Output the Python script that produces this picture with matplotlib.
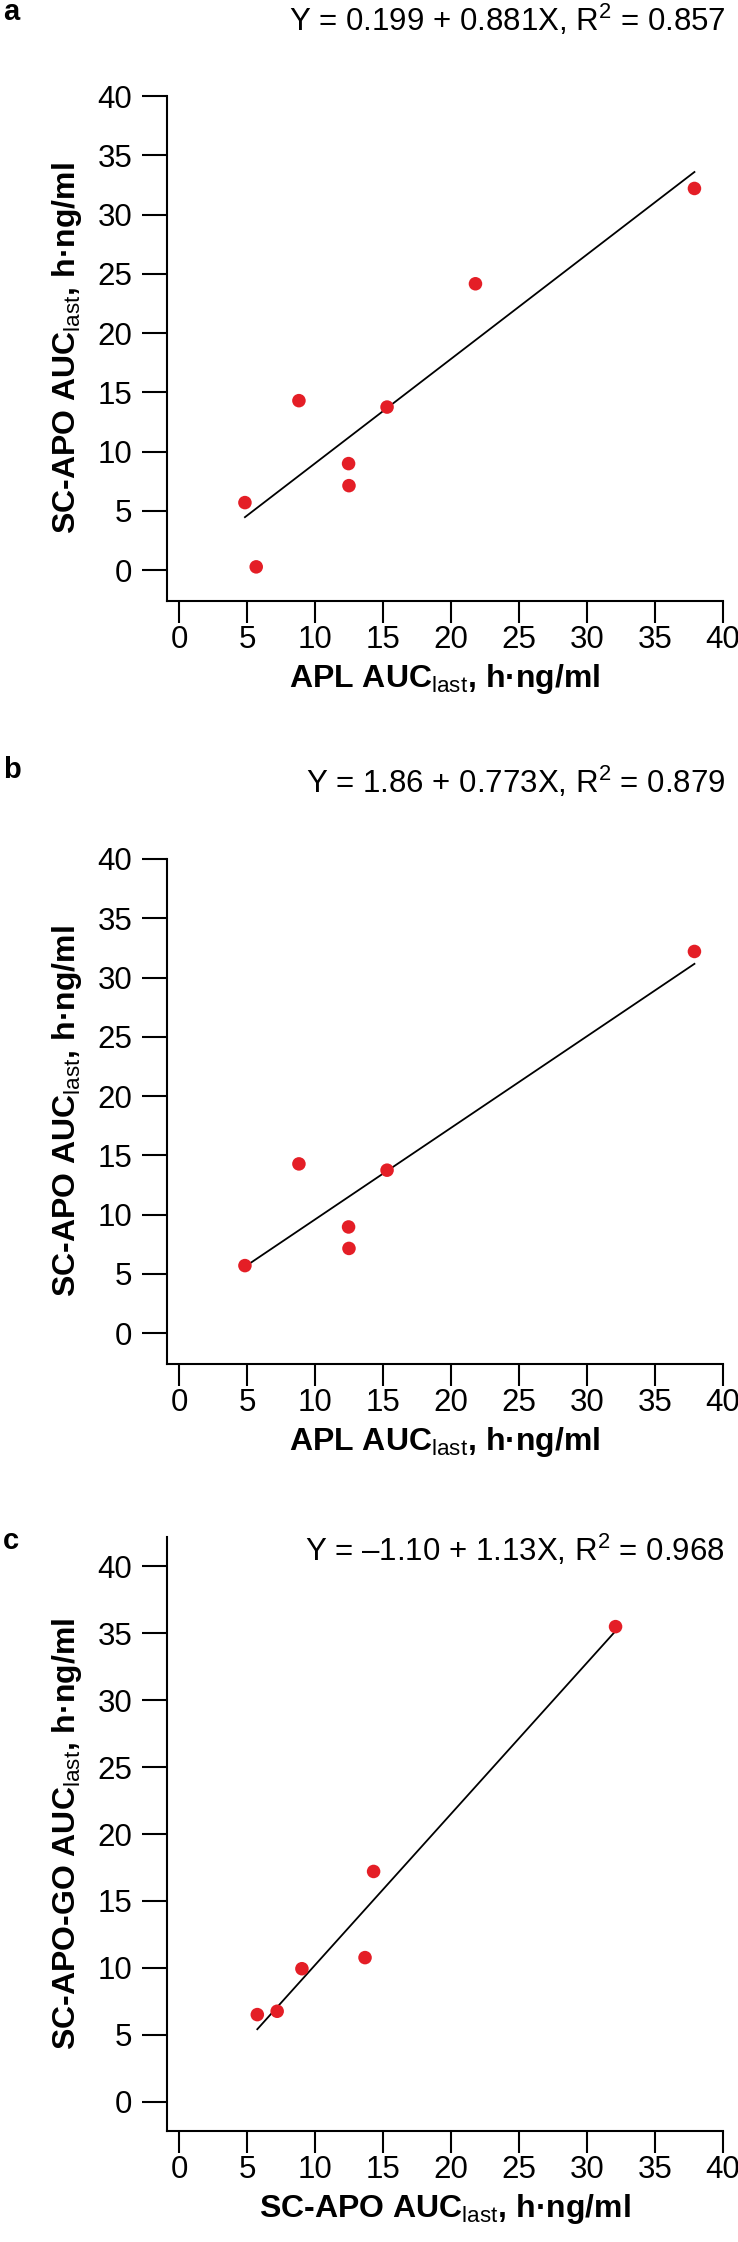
import numpy as np
import matplotlib.pyplot as plt

plt.rcParams["font.family"] = ["Liberation Sans", "DejaVu Sans"]
plt.rcParams["mathtext.fontset"] = "custom"
plt.rcParams["mathtext.rm"] = "Liberation Sans"
plt.rcParams["mathtext.it"] = "Liberation Sans:italic"
plt.rcParams["mathtext.bf"] = "Liberation Sans:bold"

# panel a: APL vs SC-APO, all subjects
x_a = [4.85, 5.68, 8.82, 12.47, 12.5, 15.3, 21.8, 37.9]
y_a = [5.7, 0.28, 14.3, 8.99, 7.13, 13.76, 24.16, 32.2]
fit_a = (0.199, 0.881)
eq_a = r"Y = 0.199 + 0.881X, R$^{\mathrm{2}}$ = 0.857"

# panel b: APL vs SC-APO, subset
x_b = [4.85, 8.82, 12.47, 12.5, 15.3, 37.9]
y_b = [5.7, 14.28, 8.96, 7.15, 13.75, 32.2]
fit_b = (1.86, 0.773)
eq_b = r"Y = 1.86 + 0.773X, R$^{\mathrm{2}}$ = 0.879"

# panel c: SC-APO vs SC-APO-GO
x_c = [5.76, 7.22, 9.04, 13.68, 14.31, 32.1]
y_c = [6.5, 6.75, 9.93, 10.76, 17.2, 35.5]
fit_c = (-1.10, 1.13)
eq_c = "Y = \u20131.10 + 1.13X, R$^{\\mathrm{2}}$ = 0.968"

ticks = [0, 5, 10, 15, 20, 25, 30, 35, 40]
sub = r"AUC$_{\mathrm{last}}$, h·ng/ml"

panels = [
    ("a", x_a, y_a, fit_a, eq_a, "APL " + sub, "SC-APO " + sub, (-2.6, 40)),
    ("b", x_b, y_b, fit_b, eq_b, "APL " + sub, "SC-APO " + sub, (-2.6, 40)),
    ("c", x_c, y_c, fit_c, eq_c, "SC-APO " + sub, "SC-APO-GO " + sub, (-2.2, 42.2)),
]

W, H = 738, 2242
fig = plt.figure(figsize=(W / 100, H / 100), dpi=100)

# axes top/bottom in pixels, letter row, equation row
boxes = [(96, 601, 12, 20), (859, 1364, 770, 782), (1537, 2131, 1541, 1550)]

for (letter, xs, ys, fit, eq, xl, yl, ylim), (top, bot, ly, ey) in zip(panels, boxes):
    ax = fig.add_axes([167 / W, 1 - bot / H, 556 / W, (bot - top) / H])
    ax.scatter(xs, ys, s=95, color="#e41e26", edgecolors="none", zorder=3)
    xx = np.array([min(xs), max(xs)])
    ax.plot(xx, fit[0] + fit[1] * xx, color="black", lw=1.3)
    ax.set_xlim(-0.88, 40)
    ax.set_ylim(*ylim)
    ax.set_xticks(ticks)
    ax.set_yticks(ticks)
    for s in ["top", "right"]:
        ax.spines[s].set_visible(False)
    for s in ["left", "bottom"]:
        ax.spines[s].set_linewidth(1.5)
    ax.tick_params(direction="out", width=1.5, labelsize=22.5)
    ax.tick_params(axis="y", length=18, pad=7)
    ax.tick_params(axis="x", length=16, pad=1)
    ax.set_xlabel(xl, fontsize=23, fontweight="bold", labelpad=5)
    ax.set_ylabel(yl, fontsize=23, fontweight="bold", labelpad=10)
    fig.text(3 / W, 1 - ly / H, letter, fontsize=21, fontweight="bold", va="center")
    fig.text(725 / W, 1 - ey / H, eq, fontsize=22.5, ha="right", va="center")

fig.savefig("out.png", dpi=100)
